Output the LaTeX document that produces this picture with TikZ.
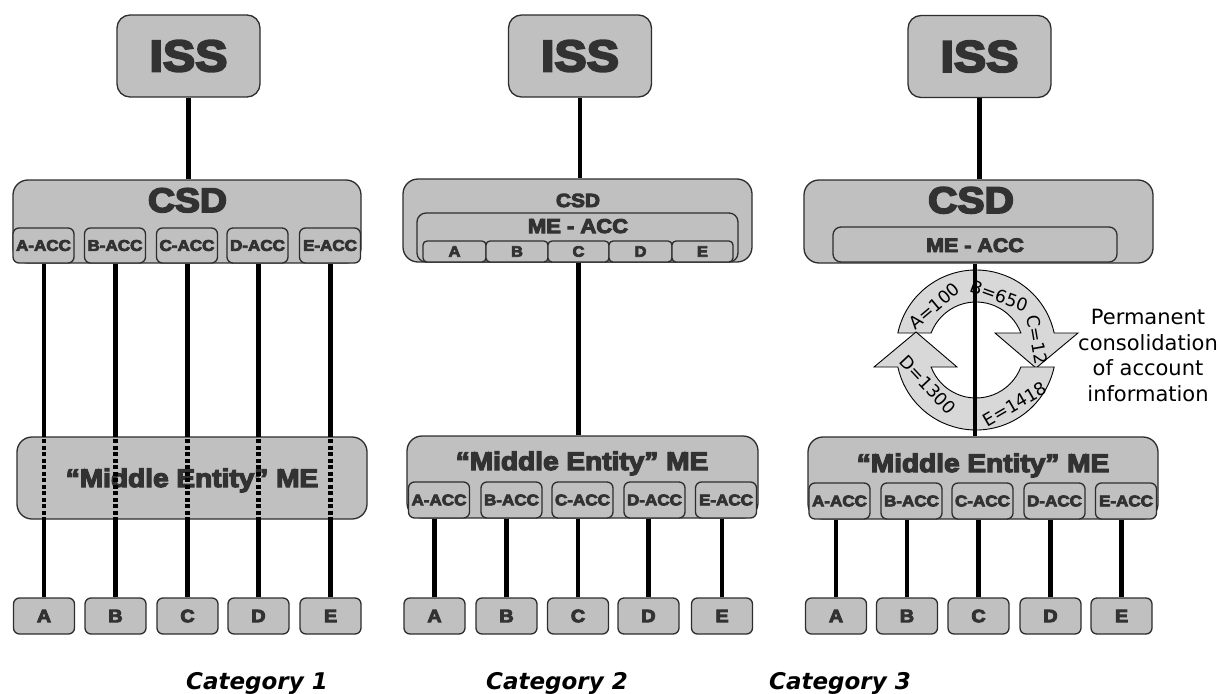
\documentclass[tikz,border=0pt]{standalone}
\usepackage{fontspec}
\usetikzlibrary{calc}
\newfontfamily\heavy{Liberation Sans Bold}[FakeBold=5,FakeStretch=1.1]
\newfontfamily\dv{DejaVu Sans}
\definecolor{boxgray}{RGB}{192,192,192}
\definecolor{boxline}{RGB}{45,45,45}
\definecolor{txt}{RGB}{50,50,50}
\definecolor{ringfill}{RGB}{216,216,216}
\tikzset{
  gbox/.style={draw=boxline, fill=boxgray, line width=1.3pt, inner sep=0pt, text=txt},
  issbox/.style={gbox, rounded corners=13pt, minimum width=143pt, minimum height=82pt, font=\heavy\fontsize{44}{44}\selectfont},
  bigbox/.style={gbox, rounded corners=15pt, minimum width=349pt, minimum height=83pt},
  accbox/.style={gbox, rounded corners=6pt, minimum width=61pt, minimum height=35pt, font=\heavy\fontsize{15.5}{15.5}\selectfont},
  leafbox/.style={gbox, rounded corners=6pt, minimum width=61pt, minimum height=36pt, font=\heavy\fontsize{18}{18}\selectfont},
  cellbox/.style={gbox, rounded corners=4pt, minimum height=21pt, font=\heavy\fontsize{15}{15}\selectfont},
  lbl/.style={anchor=base, inner sep=0pt, text=txt},
  metext/.style={lbl, font=\heavy\fontsize{25.5}{25.5}\selectfont},
  wire/.style={line width=4.5pt, black},
  hdash/.style={line width=4.5pt, black, dash pattern=on 4pt off 2.5pt},
  ring/.style={draw=black, line width=0.9pt, fill=ringfill},
  cyctext/.style={inner sep=0pt, font=\dv\fontsize{17.5}{17.5}\selectfont, text=black},
  catlbl/.style={anchor=base, inner sep=0pt, font=\dv\bfseries\itshape\fontsize{23}{23}\selectfont, text=black}
}
\begin{document}
\begin{tikzpicture}[x=1pt,y=-1pt]
\useasboundingbox (0,0) rectangle (1220,693);

% ================= Category 1 =================
\node[issbox] (iss1) at (188.5,56) {ISS};
\node[bigbox, minimum width=348pt] (csd1) at (187,221.5) {};
\node[lbl, font=\heavy\fontsize{34}{34}\selectfont] (csd1t) at (187.5,212) {CSD};
\node[accbox] (a1) at (43.5,245.5) {A-ACC};
\node[accbox] (b1) at (115,245.5) {B-ACC};
\node[accbox] (c1) at (187,245.5) {C-ACC};
\node[accbox] (d1) at (257.5,245.5) {D-ACC};
\node[accbox] (e1) at (330,245.5) {E-ACC};
\node[leafbox] (la1) at (44,616) {A};
\node[leafbox] (lb1) at (115.5,616) {B};
\node[leafbox] (lc1) at (187.5,616) {C};
\node[leafbox] (ld1) at (258.5,616) {D};
\node[leafbox] (le1) at (330.5,616) {E};
\draw[wire] (iss1.south) -- (iss1.south |- csd1.north);
\foreach \u/\l in {a1/la1,b1/lb1,c1/lc1,d1/ld1,e1/le1}{
  \draw[wire] (\l.north |- \u.south) -- (\l.north);
}
\node[bigbox, minimum width=350pt, minimum height=82pt] (me1) at (192,478) {};
\node[metext] (me1t) at (192,487) {“Middle Entity” ME};
\begin{scope}
  \clip (me1.south west) rectangle (me1.north east);
  \foreach \u/\l in {a1/la1,b1/lb1,c1/lc1,d1/ld1,e1/le1}{
    \draw[hdash] (\l.north |- \u.south) -- (\l.north);
  }
\end{scope}

% ================= Category 2 =================
\node[issbox] (iss2) at (580,56) {ISS};
\node[bigbox] (csd2) at (577.5,220.5) {};
\node[lbl, font=\heavy\fontsize{19}{19}\selectfont] (csd2t) at (578,207) {CSD};
\node[gbox, rounded corners=9pt, minimum width=321pt, minimum height=49pt] (meacc2) at (577.5,237.5) {};
\node[lbl, font=\heavy\fontsize{20}{20}\selectfont] (meacc2t) at (578,233) {ME - ACC};
\node[cellbox, minimum width=63pt] (cA2) at (454.5,251.5) {A};
\node[cellbox, minimum width=62pt] (cB2) at (517,251.5) {B};
\node[cellbox, minimum width=61pt] (cC2) at (578.5,251.5) {C};
\node[cellbox, minimum width=63pt] (cD2) at (640.5,251.5) {D};
\node[cellbox, minimum width=61pt] (cE2) at (702.5,251.5) {E};
\node[bigbox, minimum width=351pt, minimum height=82pt] (me2) at (582.5,477) {};
\node[metext] (me2t) at (582,470) {“Middle Entity” ME};
\node[accbox, minimum height=36pt] (a2) at (439,500) {A-ACC};
\node[accbox, minimum height=36pt] (b2) at (511.5,500) {B-ACC};
\node[accbox, minimum height=36pt] (c2) at (582.5,500) {C-ACC};
\node[accbox, minimum height=36pt] (d2) at (654.5,500) {D-ACC};
\node[accbox, minimum height=36pt] (e2) at (726,500) {E-ACC};
\node[leafbox] (la2) at (434.5,616) {A};
\node[leafbox] (lb2) at (506.5,616) {B};
\node[leafbox] (lc2) at (578,616) {C};
\node[leafbox] (ld2) at (648.5,616) {D};
\node[leafbox] (le2) at (722,616) {E};
\draw[wire] (iss2.south) -- (iss2.south |- csd2.north);
\draw[wire] (cC2.south) -- (cC2.south |- me2.north);
\foreach \u/\l in {a2/la2,b2/lb2,c2/lc2,d2/ld2,e2/le2}{
  \draw[wire] (\l.north |- \u.south) -- (\l.north);
}

% ================= Category 3 =================
\node[issbox] (iss3) at (979.5,56.5) {ISS};
\node[bigbox] (csd3) at (978.5,221.5) {};
\node[lbl, font=\heavy\fontsize{37}{37}\selectfont] (csd3t) at (971,213) {CSD};
\node[gbox, rounded corners=8pt, minimum width=284pt, minimum height=35pt] (meacc3) at (975,244.5) {};
\node[lbl, font=\heavy\fontsize{19.5}{19.5}\selectfont] (meacc3t) at (975,252) {ME - ACC};
\node[bigbox, minimum width=350pt, minimum height=82pt] (me3) at (983,478) {};
\node[metext] (me3t) at (983,472) {“Middle Entity” ME};
\node[accbox, minimum height=36pt] (a3) at (839.5,501) {A-ACC};
\node[accbox, minimum height=36pt] (b3) at (911.5,501) {B-ACC};
\node[accbox, minimum height=36pt] (c3) at (982.5,501) {C-ACC};
\node[accbox, minimum height=36pt] (d3) at (1054.5,501) {D-ACC};
\node[accbox, minimum height=36pt] (e3) at (1126,501) {E-ACC};
\node[leafbox] (la3) at (836,616) {A};
\node[leafbox] (lb3) at (907,616) {B};
\node[leafbox] (lc3) at (978.5,616) {C};
\node[leafbox] (ld3) at (1050.5,616) {D};
\node[leafbox] (le3) at (1121.5,616) {E};
\draw[wire] (iss3.south) -- (iss3.south |- csd3.north);
\foreach \u/\l in {a3/la3,b3/lb3,c3/lc3,d3/ld3,e3/le3}{
  \draw[wire] (\l.north |- \u.south) -- (\l.north);
}

% consolidation cycle
\coordinate (cyc) at (976,350);
\path[ring] ($(cyc)+(-167.73:80)$) arc[start angle=-167.73, end angle=-12.27, radius=80]
  -- (1078,333) -- (1036,368) -- (995,333)
  -- ($(cyc)+(-20.74:48)$) arc[start angle=-20.74, end angle=-159.26, radius=48] -- cycle;
\path[ring] ($(cyc)+(12.27:80)$) arc[start angle=12.27, end angle=167.73, radius=80]
  -- (874,367) -- (916,332) -- (957,367)
  -- ($(cyc)+(159.26:48)$) arc[start angle=159.26, end angle=20.74, radius=48] -- cycle;
\draw[wire] (csd3.south -| meacc3.south) -- (meacc3.south |- me3.north);
\node[cyctext, rotate=40] (tA) at (934,306) {A=100};
\node[cyctext, rotate=-20] (tB) at (999,296) {B=650};
\node[cyctext, rotate=-80] (tC) at (1037,340) {C=12};
\node[cyctext, rotate=-47] (tD) at (928,385) {D=1300};
\node[cyctext, rotate=30] (tE) at (1015,404) {E=1418};
\node[anchor=north, align=center, inner sep=0pt, font=\dv\fontsize{21}{25.5}\selectfont] (perm) at (1148,309) {Permanent\\consolidation\\of account\\information};

% category labels
\node[catlbl] (cat1) at (257,689) {Category 1};
\node[catlbl] (cat2) at (557,689) {Category 2};
\node[catlbl] (cat3) at (840,689) {Category 3};
\end{tikzpicture}
\end{document}
